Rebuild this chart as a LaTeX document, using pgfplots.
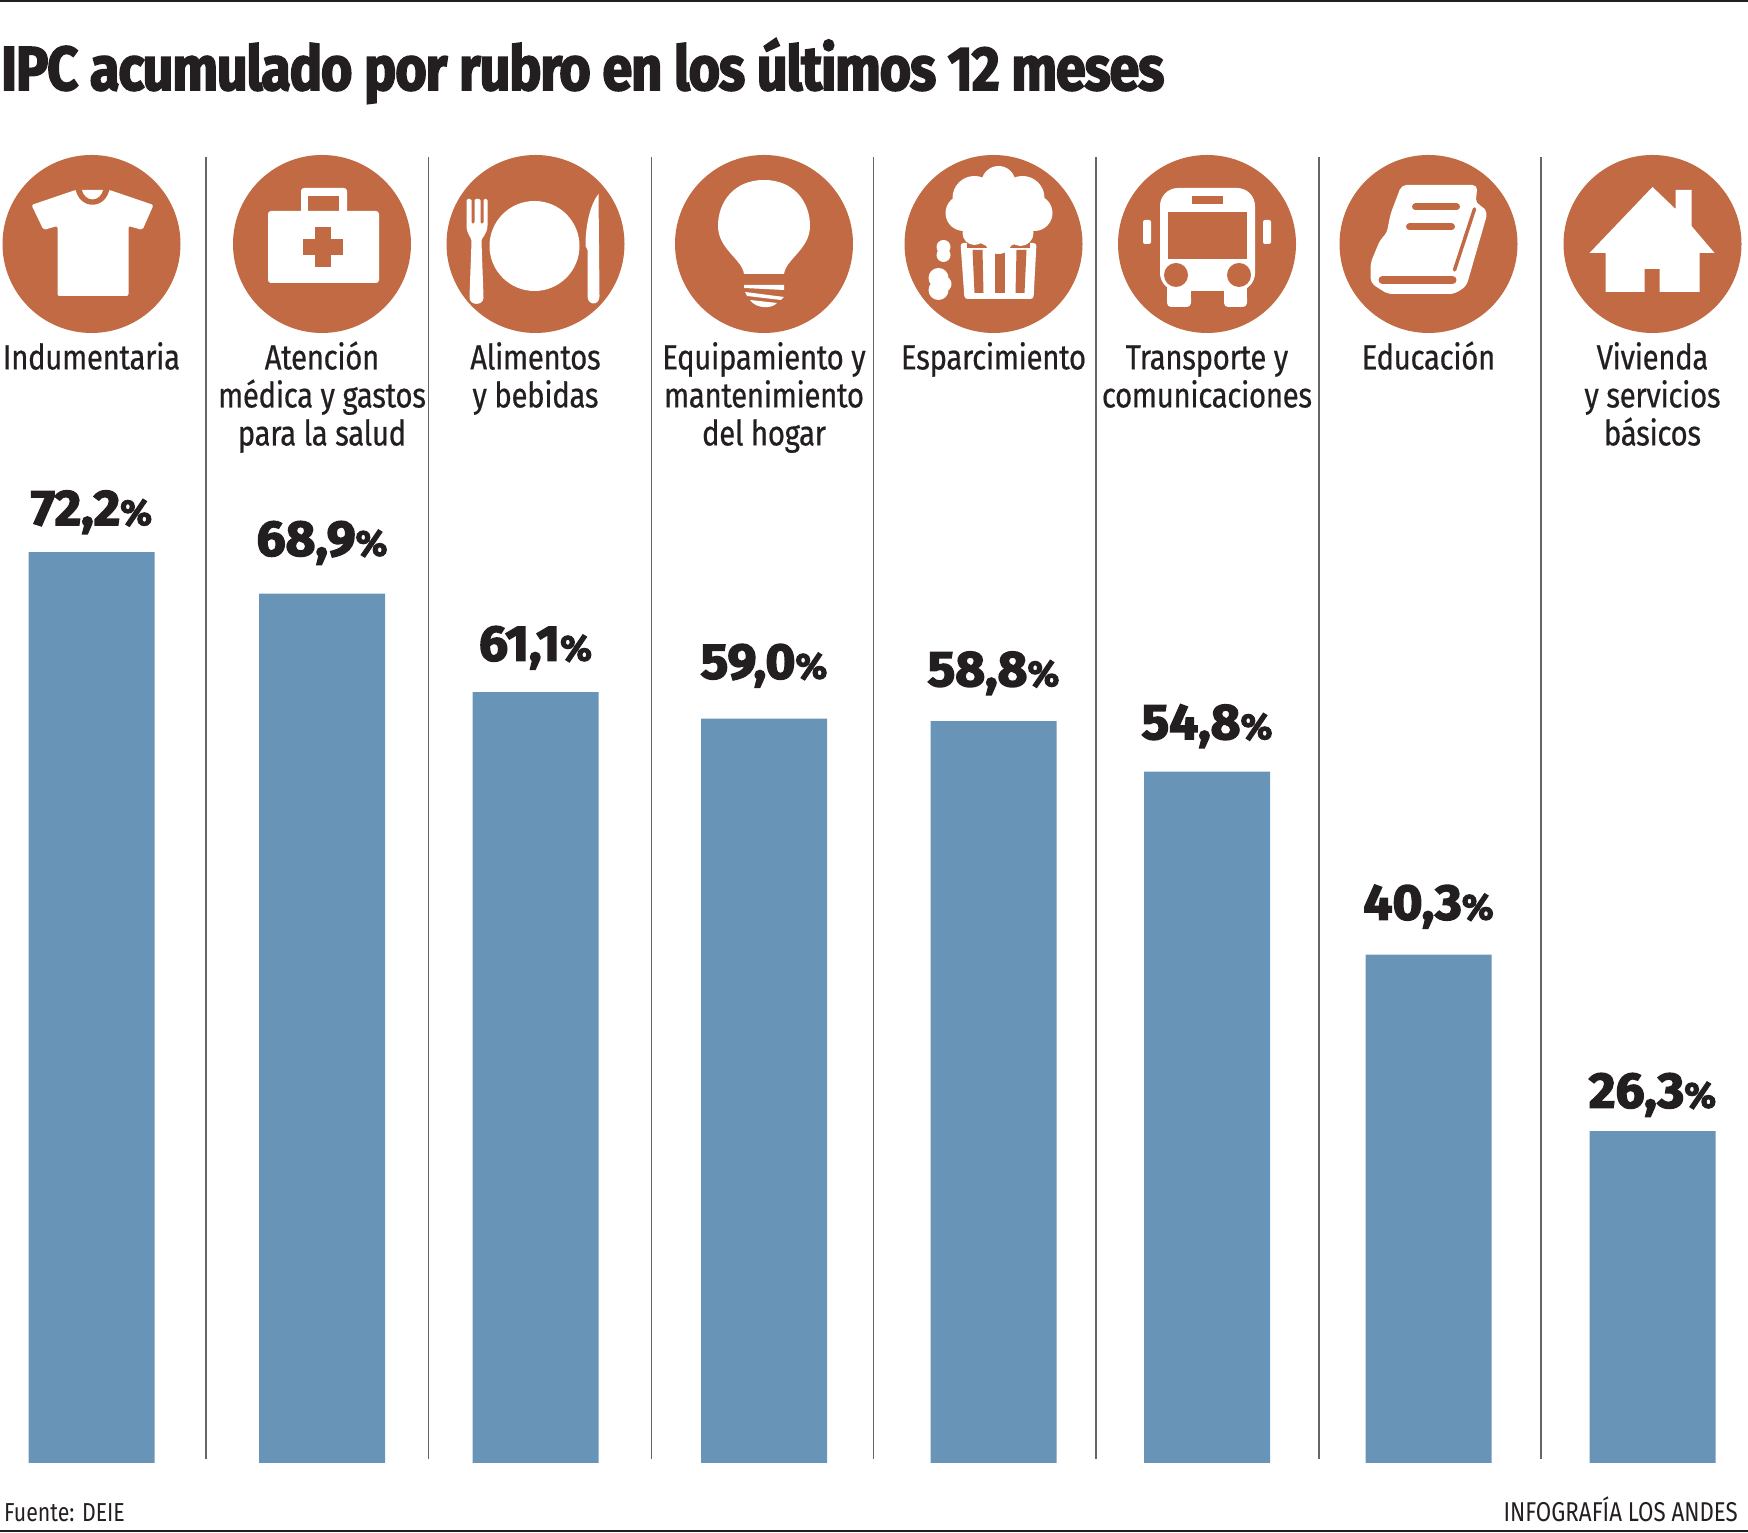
\documentclass[border=0pt]{standalone}
\usepackage{fontspec}
\usepackage{pgfplots}
\pgfplotsset{compat=1.18}
\setmainfont{Fira Sans}[FakeStretch=0.82]
\newfontfamily\labfont{Fira Sans}[FakeStretch=0.84,FakeBold=0.5,LetterSpace=-1]
\newfontfamily\titlefont{Fira Sans}[UprightFont=* Bold,FakeStretch=0.874,FakeBold=2.5,LetterSpace=-2]
\newfontfamily\valfont{Fira Sans}[UprightFont=* Bold,FakeStretch=1.03,FakeBold=3]
\definecolor{barblue}{HTML}{6895B7}
\definecolor{iconor}{HTML}{C16A43}
\definecolor{ink}{HTML}{231F20}
\definecolor{rulegray}{HTML}{666666}
\newcommand\st{\rule[-9pt]{0pt}{37pt}}
\newcommand\lab[3]{\st#1\\\st#2\\\st#3}
\begin{document}
\begin{tikzpicture}
\path[use as bounding box] (0,0) rectangle (1748pt,1533pt);
\begin{axis}[
  scale only axis, width=1748pt, height=1533pt,
  xmin=0, xmax=1748, ymin=-5.55, ymax=115.96,
  axis line style={draw=none}, tick style={draw=none},
  ytick=\empty,
  xtick={91.5,322,535.5,764,993.5,1207,1428.5,1652.5},
  xticklabels={{\lab{Indumentaria}{}{}},{\lab{Atención}{médica y gastos}{para la salud}},{\lab{Alimentos}{y bebidas}{}},
    {\lab{Equipamiento y}{mantenimiento}{del hogar}},{\lab{Esparcimiento}{}{}},{\lab{Transporte y}{comunicaciones}{}},{\lab{Educación}{}{}},
    {\lab{Vivienda}{y servicios}{básicos}}},
  xticklabel pos=upper,
  xticklabel style={align=center,anchor=north,inner sep=0pt,yshift=-345.5pt,text=ink,
    font=\labfont\fontsize{35}{38}\selectfont},
  ybar, bar width=126pt, clip=false,
  visualization depends on={\thisrow{dy}\as\dy},
  nodes near coords={\pgfmathprintnumber{\pgfplotspointmeta}{\fontsize{36}{36}\selectfont\%}},
  nodes near coords style={font=\valfont\fontsize{50}{50}\selectfont,text=ink,inner sep=0pt,anchor=base,yshift=27pt+\dy pt,
    /pgf/number format/.cd,use comma,fixed,fixed zerofill,precision=1,assume math mode=true},
]
\addplot[fill=barblue,draw=none] table[x=x,y=y] {
x      y    dy
91.5   72.2 0
322    68.9 11
535.5  61.1 4.5
764    59.0 13
993.5  58.8 8
1207   54.8 5.5
1428.5 40.3 8
1652.5 26.3 -3.5
};
\end{axis}
\begin{scope}[x=1pt,y=-1pt,yshift=1533pt]
  % rules and dividers
  \fill[ink] (0,0) rectangle (1748,2.5);
  \fill[ink] (0,1530.5) rectangle (1748,1532.5);
  \foreach \d in {206,428.6,651.6,873.5,1096,1319,1541}
    \draw[rulegray,line width=1.1pt] (\d,157) -- (\d,1459);
  % texts
  \node[anchor=base west,inner sep=0pt,text=ink,font=\titlefont\fontsize{62}{62}\selectfont] at (1,90)
    {IPC acumulado por rubro en los últimos 12 meses};
  \node[anchor=base west,inner sep=0pt,text=ink,font=\fontsize{26}{26}\selectfont] at (4,1522) {Fuente: DEIE};
  \node[anchor=base east,inner sep=0pt,text=ink,font=\fontsize{27.2}{27.2}\selectfont] at (1738,1522) {INFOGRAFÍA LOS ANDES};
  % circles
  \foreach \c in {91.5,322,535.5,764,993.5,1207,1428.5,1652.5}
    \fill[iconor] (\c,244) circle[radius=89];
  % shirt
  \begin{scope}[shift={(91.5,244)}]
    \fill[white,rounded corners=2] (-16,-54) -- (-60,-39) -- (-48,-14) -- (-34,-18) -- (-34,52) -- (37,52)
      -- (37,-18) -- (51,-14) -- (62,-39) -- (18,-54) -- cycle;
    \fill[iconor] (-16,-55) .. controls (-12,-34) and (14,-34) .. (18,-55) -- (12,-55)
      .. controls (9,-41) and (-7,-41) .. (-10,-55) -- cycle;
  \end{scope}
  % medical kit
  \begin{scope}[shift={(322,244)}]
    \fill[white,rounded corners=3] (-21,-30) -- (-21,-56) -- (25,-56) -- (25,-30) -- cycle;
    \fill[iconor] (-14,-48) rectangle (17,-30);
    \fill[white,rounded corners=3] (-54,-33) rectangle (57,39);
    \fill[iconor] (-7,-17) rectangle (9,23);
    \fill[iconor] (-19,-5) rectangle (21,11);
  \end{scope}
  % plate, fork, knife
  \begin{scope}[shift={(535.5,244)}]
    \fill[white] (-1,2) circle[radius=45];
    \fill[white,rounded corners=1.5] (-69,-45) -- (-69,-20) .. controls (-69,-10) and (-64,-6) .. (-64,-2)
      -- (-66,52) .. controls (-66,62) and (-52,62) .. (-52,52) -- (-54,-2)
      .. controls (-54,-6) and (-48,-10) .. (-48,-20) -- (-48,-45) -- (-52,-45) -- (-52,-20) -- (-55,-20) -- (-55,-45)
      -- (-61,-45) -- (-61,-20) -- (-64,-20) -- (-64,-45) -- cycle;
    \fill[white] (63,-50) .. controls (55,-40) and (50,-20) .. (50,2) -- (52,6) -- (52,52)
      .. controls (52,62) and (64,62) .. (64,52) -- cycle;
  \end{scope}
  % bulb
  \begin{scope}[shift={(764,244)}]
    \fill[white] (0,-64) .. controls (-30,-64) and (-46,-42) .. (-46,-18)
      .. controls (-46,5) and (-22,15) .. (-20,30) -- (20,30)
      .. controls (22,15) and (46,5) .. (46,-18) .. controls (46,-42) and (30,-64) .. (0,-64) -- cycle;
    \fill[white] (-20,41) -- (20,41) -- (20,46) -- (-20,44) -- cycle;
    \fill[white] (-19,48) -- (20,53) -- (17,56) -- (-17,52) -- cycle;
    \fill[white] (-14,56) -- (13,59) .. controls (8,65) and (-8,65) .. (-14,56) -- cycle;
  \end{scope}
  % popcorn
  \begin{scope}[shift={(993.5,244)}]
    \fill[white,rounded corners=3] (-33,-1) -- (43,-1) -- (40,55) -- (-29,55) -- cycle;
    \fill[iconor] (-21,6) -- (-11,6) -- (-10,49) -- (-19,49) -- cycle;
    \fill[iconor] (1,6) rectangle (11,49);
    \fill[iconor] (23,6) -- (33,6) -- (31,49) -- (22,49) -- cycle;
    \fill[iconor] (-27,-12) rectangle (36,4);
    \fill[white] (5,-61) circle[radius=17] (-19,-46) circle[radius=22] (29,-46) circle[radius=22]
      (-30,-31) circle[radius=18] (41,-31) circle[radius=18] (5,-31) circle[radius=35]
      (-19,-11) circle[radius=12] (27,-11) circle[radius=13] (5,-4) circle[radius=14];
    \fill[white] (-50,3) circle[radius=7] (-50,11) circle[radius=7];
    \fill[white] (-55,34) circle[radius=10] (-55,46) circle[radius=10] (-50,40) circle[radius=8];
  \end{scope}
  % bus
  \begin{scope}[shift={(1207,244)}]
    \fill[white] (-40,40) rectangle (-16,58);
    \fill[white] (17,40) rectangle (40,58);
    \fill[white,rounded corners=4] (-40,50) rectangle (-16,63);
    \fill[white,rounded corners=4] (17,50) rectangle (40,63);
    \fill[white,rounded corners=18] (-47,47) -- (-47,-56) -- (48,-56) -- (48,47) -- cycle;
    \fill[iconor] (-39,-32) rectangle (40,15);
    \fill[iconor] (-15,-48) rectangle (16,-40);
    \fill[iconor] (-31,31) circle[radius=12] (32,31) circle[radius=12];
    \fill[white,rounded corners=2] (-64,-24) rectangle (-56,0);
    \fill[white,rounded corners=2] (56,-24) rectangle (64,0);
  \end{scope}
  % book
  \begin{scope}[shift={(1428.5,244)}]
    \fill[white,rounded corners=5] (-27,-59) -- (49,-59) -- (47,-40) -- (54,-38) -- (59,-31) -- (38,42) -- (26,50)
      -- (-41,50) -- (-58,39) -- (-58,19) -- (-48,-5) -- (-42,-10) -- (-38,-30) -- cycle;
    \draw[iconor,line width=3.5pt,line cap=round] (46,-35) -- (26,26);
    \draw[iconor,line width=8pt,line cap=round] (24,36) -- (-46,36);
    \draw[iconor,line width=7pt,line cap=round] (-13,-37) -- (28,-37);
    \draw[iconor,line width=7pt,line cap=round] (-19,-17) -- (23,-17);
  \end{scope}
  % house
  \begin{scope}[shift={(1652.5,244)}]
    \fill[white] (0,-57) -- (23,-35) -- (23,-54) -- (39,-54) -- (39,-18) -- (62,9) -- (47,9) -- (47,48) -- (7,48)
      -- (7,25) -- (-8,25) -- (-8,48) -- (-47,48) -- (-47,9) -- (-63,9) -- cycle;
  \end{scope}
\end{scope}
\end{tikzpicture}
\end{document}
